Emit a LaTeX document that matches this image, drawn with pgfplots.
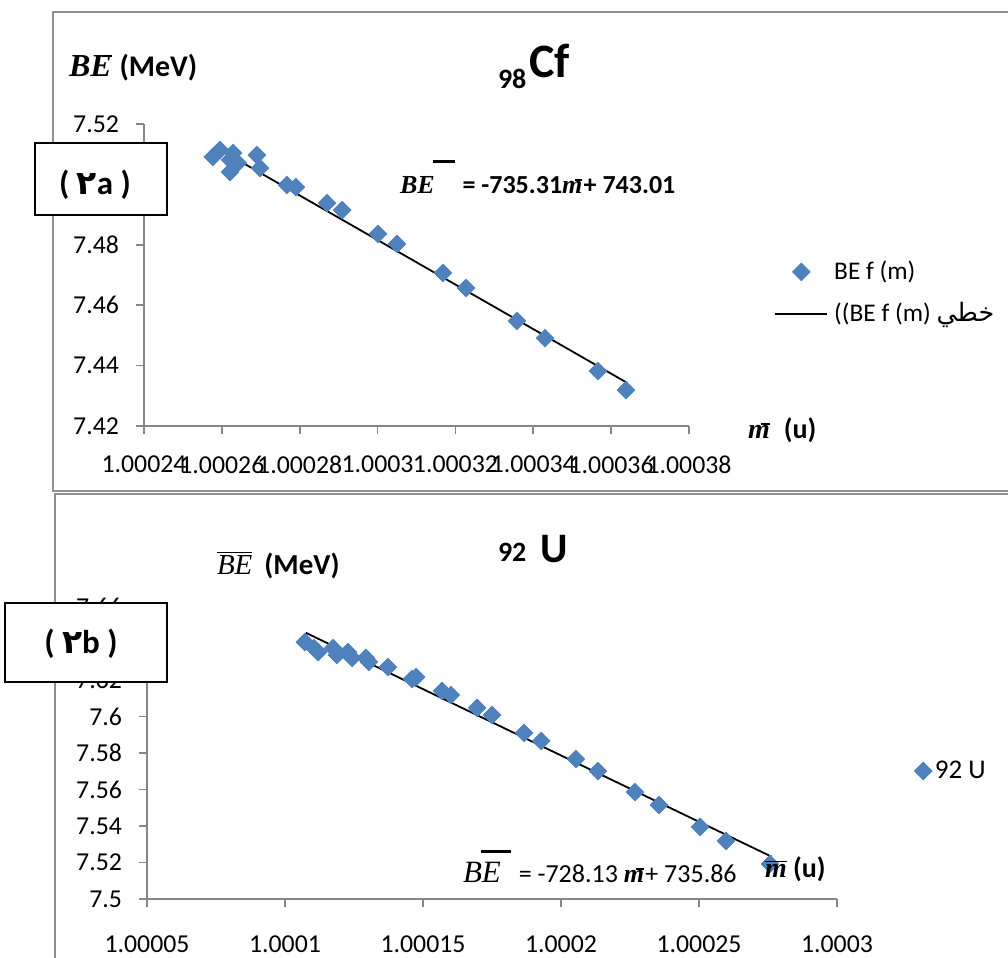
\documentclass[border=0pt]{standalone}
\usepackage{fontspec}
\setmainfont{Carlito}
\newfontfamily\serifbi{Liberation Serif}
\newfontfamily\arabicfont[Script=Arabic]{DejaVu Sans}
\TeXXeTstate=1
\usepackage{pgfplots}
\usepackage{pgfplotstable}
\pgfplotsset{compat=1.18}

\definecolor{exblue}{HTML}{4F81BD}
\definecolor{axgray}{HTML}{868686}
\definecolor{framegray}{HTML}{8F8F8F}

\newcommand{\fs}[1]{\fontsize{#1}{#1}\selectfont}
% m with a short bar at its top right
\newcommand{\mbarb}{{\serifbi\bfseries\itshape m}\kern-0.3em\raisebox{0.46em}{\rule{0.3em}{0.07em}}\kern0.05em}

% x column: (m - 1) x 10^5, m in u ; be in MeV
\pgfplotstableread{
u      be
25.77  7.5091
25.95  7.5114
26.29  7.5104
26.21  7.5081
26.21  7.5041
26.41  7.5071
26.90  7.5097
26.98  7.5054
27.67  7.4998
27.90  7.4991
28.70  7.4938
29.09  7.4915
30.01  7.4836
30.50  7.4803
31.68  7.4707
32.27  7.4657
33.58  7.4548
34.30  7.4491
35.66  7.4382
36.38  7.4319
}\cfdata

\pgfplotstableread{
u      be
10.72  7.6408
11.05  7.6375
11.20  7.6353
11.74  7.6375
11.88  7.6337
12.28  7.6353
12.43  7.6321
12.93  7.6321
13.04  7.6299
13.73  7.6271
14.60  7.6205
14.75  7.6216
15.69  7.6140
16.01  7.6118
16.96  7.6047
17.50  7.6008
18.66  7.5910
19.28  7.5866
20.54  7.5767
21.34  7.5701
22.68  7.5586
23.55  7.5515
25.04  7.5395
25.98  7.5318
27.57  7.5192
}\udata

\pgfplotsset{
  excel/.style={
    scale only axis,
    axis x line*=bottom, axis y line*=left,
    axis line style={-, draw=axgray, line width=0.8pt},
    tick style={draw=axgray, line width=0.8pt},
    tick align=outside,
    major tick length=4pt,
    minor tick num=0,
    ticklabel style={font=\fs{12.9}, text=black},
    yticklabel style={xshift=-5pt},
    clip=false,
    legend style={draw=none, fill=none, inner sep=0pt, font=\fs{12.7},
      nodes={inner sep=0pt}},
    legend cell align=left,
  },
  dia/.style={only marks, mark=square*, mark size=3.1pt, color=exblue,
    every mark/.append style={rotate=45}},
}

\begin{document}
\begin{tikzpicture}[x=0.5pt, y=-0.5pt, lbl/.style={inner sep=0pt, outer sep=0pt}]
\useasboundingbox (0,0) rectangle (1008,958);
\draw[framegray, line width=0.8pt] (53,12) rectangle (1040,491);
\draw[framegray, line width=0.8pt] (55,494) rectangle (1040,1000);

\coordinate (cfsw) at (144,426);
\coordinate (usw) at (147,899);

\begin{axis}[excel, at={(cfsw)}, anchor=south west,
  width=272.5pt, height=151pt,
  xmin=24, xmax=38, ymin=7.42, ymax=7.52,
  xtick={24,26,28,30,32,34,36,38},
  xticklabels={1.00024,1.00026,1.00028,1.0003,1.00032,1.00034,1.00036,1.00038},
  xticklabel style={yshift=-7.5pt},
  ytick={7.42,7.44,7.46,7.48,7.50,7.52},
  yticklabels={7.42,7.44,7.46,7.48,7.5,7.52},
  legend style={at={(1.156,0.4404)}, anchor=west, row sep=10pt,
    /tikz/every odd column/.append style={column sep=3pt}},
  legend image code/.code={\draw[mark repeat=2,mark phase=2,#1]
    plot coordinates {(0pt,0pt) (13pt,0pt) (26pt,0pt)};},
]
\addplot[dia] table[x=u, y=be] {\cfdata};
\addlegendentry{BE f (m)}
\addplot[black, line width=0.9pt, mark=none] coordinates {(25.81,7.5125) (36.41,7.4343)};
\addlegendentry{((BE f (m) {\arabicfont\beginR خطي\endR}}
\end{axis}

\begin{axis}[excel, at={(usw)}, anchor=south west,
  width=345pt, height=146pt,
  xmin=5, xmax=30, ymin=7.5, ymax=7.66,
  xtick={5,10,15,20,25,30},
  xticklabels={1.00005,1.0001,1.00015,1.0002,1.00025,1.0003},
  xticklabel style={yshift=-11pt},
  ytick={7.5,7.52,7.54,7.56,7.58,7.6,7.62,7.64,7.66},
  yticklabels={7.5,7.52,7.54,7.56,7.58,7.6,7.62,7.64,7.66},
  legend style={at={(1.1116,0.4384)}, anchor=west, font=\fs{13.5},
    /tikz/every odd column/.append style={column sep=1.5pt}},
  legend image code/.code={\draw[mark repeat=2,mark phase=2,#1]
    plot coordinates {(0pt,0pt) (5pt,0pt) (10pt,0pt)};},
]
\addplot[dia] table[x=u, y=be] {\udata};
\addlegendentry{92 U}
\addplot[black, line width=0.9pt, mark=none, forget plot] coordinates {(10.75,7.6459) (27.63,7.5232)};
\end{axis}

% top panel texts
\node[lbl, anchor=base west] at (69,76) {\fs{16}\bfseries{\serifbi\itshape BE}\kern-0.3em\raisebox{0.6em}{\rule{0.32em}{0.07em}}\ \fs{15}(MeV)};
\node[lbl, anchor=base west] at (498,89) {\fs{14}\bfseries 98};
\node[lbl, anchor=base west] at (529,77) {\fs{24}\bfseries Cf};
\node[lbl, anchor=base west] at (400,193) {\fs{13}\bfseries{\serifbi\itshape BE}\kern-1pt\raisebox{15pt}{\rule{11pt}{1.6pt}}\kern1pt{} = -735.31\mbarb+ 743.01};
\node[lbl, anchor=base west] at (748,438) {\fs{14}\bfseries\mbarb\ \ (u)};
\draw[black, line width=0.6pt, fill=white] (35,143) rectangle (167,215);
\node[lbl, anchor=base] at (95,194) {\fs{16.5}\bfseries (\ {\arabicfont ٢}a\ )};

% bottom panel texts
\node[lbl, anchor=base west] at (217,574) {\fs{14.5}$\overline{\hbox{\serifbi\itshape BE}}$\hspace{6pt}\textbf{(MeV)}};
\node[lbl, anchor=base west] at (498,561) {\fs{14}\bfseries 92};
\node[lbl, anchor=base west] at (540,562) {\fs{21}\bfseries U};
\node[lbl, anchor=base west] at (463,882) {\fs{13}{\fs{15.5}\serifbi\itshape BE}\kern-10pt\raisebox{14.5pt}{\rule{15pt}{1.6pt}}\kern1pt{} = -728.13 \mbarb+ 735.86};
\node[lbl, anchor=base west] at (765,877) {\fs{14}\bfseries$\overline{\hbox{\serifbi\bfseries\itshape m}}$ (u)};
\draw[black, line width=0.6pt, fill=white] (5,603) rectangle (167,682);
\node[lbl, anchor=base] at (81,653) {\fs{16.5}\bfseries (\ {\arabicfont ٢}b\ )};
\end{tikzpicture}
\end{document}
